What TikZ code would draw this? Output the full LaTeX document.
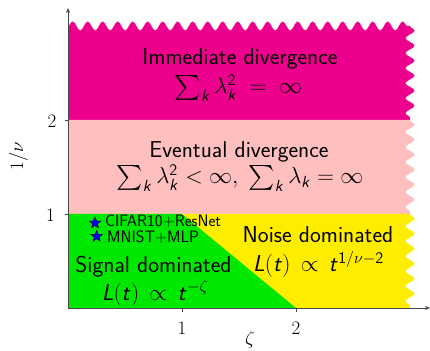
\RequirePackage{fix-cm}
\documentclass[tikz,border=0pt]{standalone}
\usepackage{exscale}
\usetikzlibrary{decorations.pathmorphing,shapes.geometric,arrows.meta}
\DeclareMathAlphabet{\mathsfsl}{OT1}{cmss}{m}{sl}
\newcommand{\sL}{\mathsfsl{L}}
\newcommand{\st}{\mathsfsl{t}}
\newcommand{\sk}{\mathsfsl{k}}
\definecolor{cMag}{RGB}{236,0,140}
\definecolor{cPink}{RGB}{255,191,191}
\definecolor{cYel}{RGB}{255,237,0}
\definecolor{cGrn}{RGB}{0,232,0}
\definecolor{cAxis}{RGB}{70,70,70}
\begin{document}
\begin{tikzpicture}[x=114pt,y=94pt,
  snk/.style={decoration={snake,segment length=15pt,amplitude=4.5pt}},
  txt/.style={font=\fontsize{23}{27}\selectfont\sffamily, inner sep=0pt, anchor=base},
  small/.style={font=\fontsize{16.5}{19}\selectfont\sffamily, inner sep=0pt, anchor=base west},
  ticklab/.style={font=\fontsize{19}{22}\selectfont, inner sep=0pt},
  axisline/.style={draw=cAxis, line width=0.8pt, -{Stealth[length=5pt,width=4pt]}},
  tickline/.style={draw=cAxis, line width=0.6pt},
  starmark/.style={star, star points=5, star point ratio=2.3, fill=blue, draw=black, line width=0.4pt, minimum size=12pt, inner sep=0pt}
]
\useasboundingbox (-68pt,-42pt) rectangle (362pt,308pt);
% regions
\fill[cMag] (0,2) -- (0,3) decorate[snk]{-- (3,3)} decorate[snk]{-- (3,2)} -- cycle;
\fill[cPink] (0,1) -- (0,2) -- (3,2) decorate[snk]{-- (3,1)} -- cycle;
\fill[cYel] (0,0) -- (0,1) -- (3,1) decorate[snk]{-- (3,0)} -- cycle;
\fill[cGrn] (0,0) -- (0,1) -- (1,1) -- (2,0) -- cycle;
% axes
\coordinate (O) at (0,0);
\coordinate (xe) at (362pt,0);
\coordinate (ye) at (0,300pt);
\draw[axisline] (O) -- (xe);
\draw[axisline] (O) -- (ye);
\coordinate (tx1) at (1,0);
\coordinate (tx2) at (2,0);
\coordinate (ty1) at (0,1);
\coordinate (ty2) at (0,2);
\draw[tickline] (tx1) -- ++(0,-3.5pt);
\draw[tickline] (tx2) -- ++(0,-3.5pt);
\draw[tickline] (ty1) -- ++(-3.5pt,0);
\draw[tickline] (ty2) -- ++(-3.5pt,0);
\node[ticklab] (lx1) at (114pt,-20.5pt) {1};
\node[ticklab] (lx2) at (228pt,-20.5pt) {2};
\node[ticklab] (ly1) at (-17.5pt,93pt) {1};
\node[ticklab] (ly2) at (-16pt,186.5pt) {2};
\node[ticklab] (zeta) at (182pt,-32pt) {$\zeta$};
\node[ticklab, rotate=90] (nu) at (-49.5pt,152pt) {$1/\nu$};
% texts
\node[txt] (imm) at (172pt,243pt) {Immediate divergence};
\node[txt] (immf) at (170.5pt,214pt) {$\sum_{\sk} \lambda_{\sk}^{\mathsf{2}}\; =\; \infty$};
\node[txt] (evt) at (171pt,150pt) {Eventual divergence};
\node[txt] (evtf) at (172pt,124pt) {$\sum_{\sk} \lambda_{\sk}^{\mathsf{2}} < \infty,\; \sum_{\sk} \lambda_{\sk} = \infty$};
\node[txt] (noise) at (250pt,65pt) {Noise dominated};
\node[txt] (noisef) at (250.5pt,36pt) {$\sL(\st)\,\propto\, \st^{\mathsf{1}/\nu-\mathsf{2}}$};
\node[txt] (sig) at (85.5pt,35.3pt) {Signal dominated};
\node[txt] (sigf) at (87pt,8pt) {$\sL(\st)\,\propto\, \st^{-\zeta}$};
% data points
\node[starmark] (s1) at (27pt,85pt) {};
\node[starmark] (s2) at (28.7pt,71.7pt) {};
\node[small] (l1) at (37pt,81.7pt) {CIFAR10+ResNet};
\node[small] (l2) at (39pt,65.7pt) {MNIST+MLP};
\end{tikzpicture}
\end{document}
